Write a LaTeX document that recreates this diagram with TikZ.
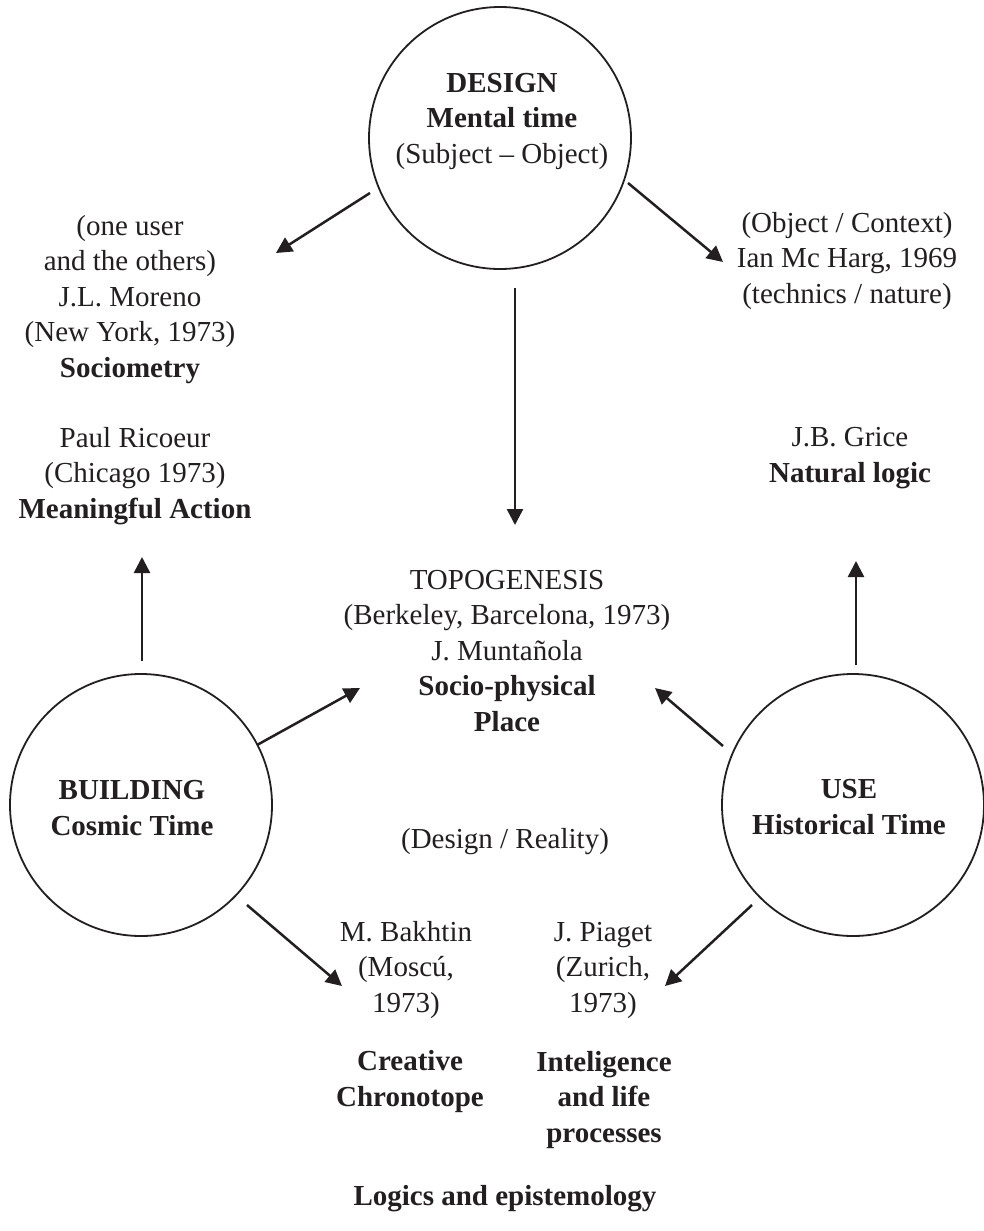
\documentclass[tikz,border=0pt]{standalone}
\usepackage{fontspec}
\setmainfont{Liberation Serif}
\usetikzlibrary{arrows.meta}
\definecolor{ink}{RGB}{35,31,32}
\begin{document}
\begin{tikzpicture}[x=1pt,y=-1pt,
  every node/.style={inner sep=0pt, outer sep=0pt, text=ink,
    font=\fontsize{29}{35.5}\selectfont},
  txt/.style={anchor=base, align=center},
  hub/.style={draw=ink, circle, line width=1.8pt, minimum size=262pt},
  link/.style={draw=ink, line width=2.5pt, -{Triangle[length=16pt,width=16pt]}}
]
\fill[white] (0,0) rectangle (984,1231);
\useasboundingbox (0,0) rectangle (984,1231);

% the three poles
\node[hub] (design) at (500,138) {};
\node[hub] (building) at (141,805) {};
\node[hub] (use) at (853,805) {};

% texts are placed by the baseline of their last line
\node[txt] (designtxt) at (502,163) {\textbf{DESIGN}\\\textbf{Mental time}\\(Subject -- Object)};
\node[txt] (buildingtxt) at (132,835) {\textbf{BUILDING}\\\textbf{Cosmic Time}};
\node[txt] (usetxt) at (849,834) {\textbf{USE}\\\textbf{Historical Time}};

% surrounding texts
\node[txt] (moreno) at (130,377) {(one user\\and the others)\\J.L. Moreno\\(New York, 1973)\\\textbf{Sociometry}};
\node[txt] (ricoeur) at (135,518) {Paul Ricoeur\\(Chicago 1973)\\\textbf{Meaningful Action}};
\node[txt] (mcharg) at (847,303) {(Object / Context)\\Ian Mc Harg, 1969\\(technics / nature)};
\node[txt] (grice) at (850,482) {J.B. Grice\\\textbf{Natural logic}};
\node[txt] (topo) at (507,731) {TOPOGENESIS\\(Berkeley, Barcelona, 1973)\\J. Muntañola\\\textbf{Socio-physical}\\\textbf{Place}};
\node[txt] (reality) at (505,848) {(Design / Reality)};
\node[txt] (bakhtin) at (406,1012) {M. Bakhtin\\(Moscú,\\1973)};
\node[txt] (piaget) at (603,1012) {J. Piaget\\(Zurich,\\1973)};
\node[txt] (chrono) at (410,1106) {\textbf{Creative}\\\textbf{Chronotope}};
\node[txt] (intel) at (604,1142) {\textbf{Inteligence}\\\textbf{and life}\\\textbf{processes}};
\node[txt] (logics) at (505,1205) {\textbf{Logics and epistemology}};

% connector ends
\coordinate (d1s) at (370,193);  \coordinate (d1e) at (276,253);
\coordinate (d2s) at (628,183);  \coordinate (d2e) at (723,262);
\coordinate (d3s) at (515,288);  \coordinate (d3e) at (515,525);
\coordinate (b1s) at (142,661);  \coordinate (b1e) at (142,557);
\coordinate (b2s) at (257,745);  \coordinate (b2e) at (360,688);
\coordinate (b3s) at (247,905);  \coordinate (b3e) at (342,986);
\coordinate (u1s) at (856,665);  \coordinate (u1e) at (856,561);
\coordinate (u2s) at (723,746);  \coordinate (u2e) at (655,688);
\coordinate (u3s) at (752,905);  \coordinate (u3e) at (665,986);

\draw[link] (d1s) -- (d1e);
\draw[link] (d2s) -- (d2e);
\draw[link] (d3s) -- (d3e);
\draw[link] (b1s) -- (b1e);
\draw[link] (b2s) -- (b2e);
\draw[link] (b3s) -- (b3e);
\draw[link] (u1s) -- (u1e);
\draw[link] (u2s) -- (u2e);
\draw[link] (u3s) -- (u3e);
\end{tikzpicture}
\end{document}
